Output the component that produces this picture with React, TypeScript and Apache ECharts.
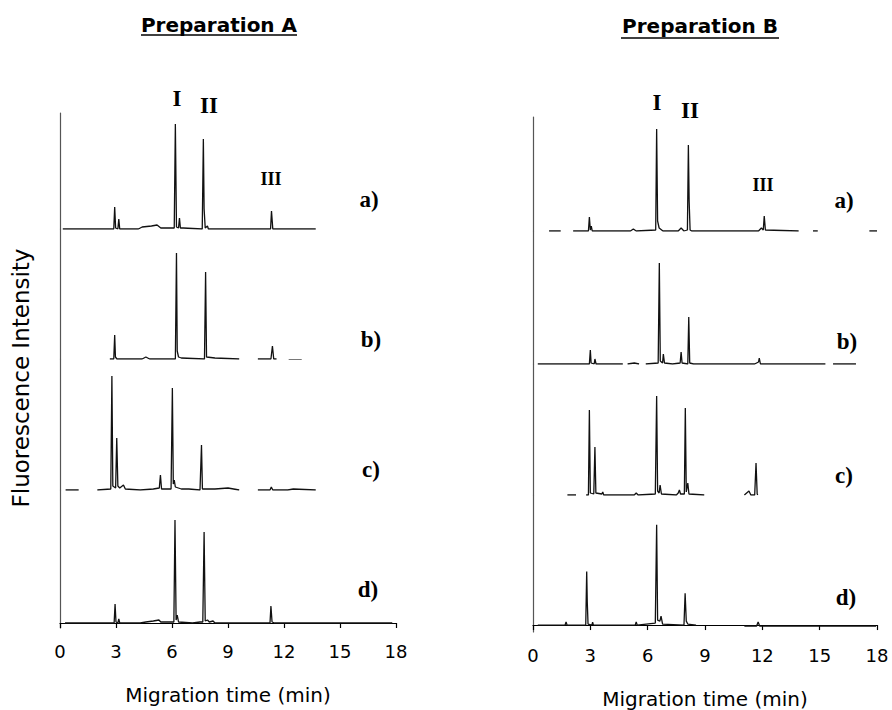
import { useEffect, useRef } from 'react';
import * as echarts from 'echarts';

// gap marker (break in the recorded trace)
const G = '-';

const panelTitles = ['Preparation A', 'Preparation B'];
const traceLabels = ['a)', 'b)', 'c)', 'd)'];
const peakLabels = ['I', 'II', 'III'];
const xAxisTitle = 'Migration time (min)';
const yAxisTitle = 'Fluorescence Intensity';
const xMin = 0;
const xMax = 18;
const xInterval = 3;

// Preparation A traces: [migration time (min), intensity (a.u.)]
const prepA_a = [
  [0.15, 0], [2.88, 0], [2.93, 22], [2.98, 1], [3.1, 0], [3.15, 10], [3.2, 0], [4.2, 0], [4.4, 2], [4.9, 3],
  [5.2, 4], [5.4, 1], [6.12, 1], [6.18, 105], [6.24, 2], [6.35, 1], [6.4, 11], [6.45, 1], [6.6, 1], [7.62, 0],
  [7.68, 90], [7.72, 20], [7.78, 1], [7.9, 3], [7.95, 0], [11.28, 0], [11.33, 18], [11.4, 0], [13.7, 0],
];
const prepA_b = [
  [2.67, 0], [2.88, 0], [2.93, 24], [2.97, 2], [3.05, 0], [4.4, 0], [4.6, 2], [4.8, 0], [6.18, 0], [6.24, 106],
  [6.28, 8], [6.35, 2], [6.5, 1], [7.74, 0], [7.8, 87], [7.85, 2], [8.3, 1], [9.6, 0], [9.7, G], [10.6, 0],
  [11.3, 0], [11.38, 13], [11.45, 0], [11.6, 0], [11.9, G], [12.25, -1], [12.95, -1], [13.3, G], [13.8, -3], [18.3, -3],
];
const prepA_c = [
  [0.3, 0], [1.0, 0], [1.5, G], [2.0, 0], [2.72, 1], [2.78, 114], [2.83, 4], [2.98, 2], [3.04, 52], [3.1, 4],
  [3.2, 2], [3.4, 5], [3.5, 1], [4.3, 0], [5.0, 1], [5.32, 2], [5.38, 15], [5.44, 1], [5.95, 1], [6.02, 102],
  [6.07, 6], [6.12, 10], [6.18, 3], [6.5, 1], [6.9, 1], [7.5, 0], [7.58, 45], [7.63, 1], [8.3, 1], [9.0, 2],
  [9.6, 0], [10.0, G], [10.6, 0], [11.25, 0], [11.32, 3], [11.4, 0], [12.2, 0], [12.5, 1], [13.7, 0],
];
const prepA_d = [
  [0.27, 0], [2.9, 0], [2.95, 19], [3.0, 1], [3.1, 0], [3.15, 4], [3.2, 0], [4.3, 0], [4.6, 1], [5.0, 2],
  [5.3, 3], [5.4, 1], [6.1, 1], [6.16, 103], [6.22, 3], [6.28, 8], [6.35, 1], [7.1, 0], [7.5, 1], [7.65, 1],
  [7.72, 91], [7.78, 2], [7.9, 3], [8.0, 1], [8.2, 2], [8.3, 0], [11.25, 0], [11.3, 17], [11.36, 1], [11.5, 0],
  [17.8, 0],
];

// Preparation B traces
const prepB_a = [
  [0.84, 0], [1.45, 0], [1.8, G], [2.1, 0], [2.9, 0], [2.95, 14], [3.0, 1], [3.05, 5], [3.1, 0], [5.1, 0],
  [5.25, 2], [5.4, 0], [6.42, 1], [6.47, 102], [6.52, 10], [6.6, 3], [6.8, 0], [7.6, 0], [7.75, 3], [7.9, 0],
  [8.08, 1], [8.13, 86], [8.17, 30], [8.22, 1], [8.3, 0], [11.8, 0], [11.95, 3], [12.05, 1], [12.1, 15], [12.16, 1],
  [13.9, 0], [14.3, G], [14.65, 0], [14.9, 0], [15.5, G], [17.6, 0], [18, 0],
];
const prepB_b = [
  [0.25, 0], [2.95, 0], [3.0, 14], [3.04, 1], [3.2, 0], [3.24, 5], [3.3, 0], [4.7, 0], [4.8, G], [4.95, 0],
  [5.3, 1], [5.55, 0], [5.7, G], [5.9, 0], [6.55, 1], [6.61, 101], [6.66, 3], [6.78, 1], [6.82, 10], [6.88, 1],
  [7.3, 0], [7.7, 1], [7.75, 12], [7.8, 1], [8.1, 0], [8.15, 47], [8.2, 1], [8.4, 0], [11.6, 0], [11.8, 2],
  [11.84, 6], [11.9, 0], [15.3, 0], [15.5, G], [15.7, 0], [16.9, 0],
];
const prepB_c = [
  [1.8, 0], [2.25, 0], [2.5, G], [2.78, 0], [2.9, 0], [2.95, 85], [3.0, 2], [3.18, 1], [3.24, 48], [3.29, 2],
  [3.6, 1], [3.65, 3], [3.7, 0], [5.3, 0], [5.4, 2], [5.5, 0], [6.4, 1], [6.47, 99], [6.52, 4], [6.6, 2],
  [6.65, 10], [6.72, 1], [7.5, 0], [7.6, 2], [7.66, 5], [7.72, 1], [7.92, 1], [7.97, 87], [8.02, 3], [8.1, 12],
  [8.16, 1], [8.96, 0], [10.0, G], [11.06, 0], [11.3, 4], [11.4, 0], [11.6, 0], [11.67, 32], [11.73, 1], [11.76, 0],
  [12.5, G], [13.24, -2], [18.3, -2],
];
const prepB_d = [
  [0.25, 0], [1.68, 0], [1.73, 3], [1.78, 0], [2.76, 0], [2.81, 54], [2.84, 23], [2.88, 1], [3.08, 0], [3.12, 3],
  [3.16, 0], [5.35, 0], [5.4, 3], [5.45, 0], [6.4, 2], [6.47, 101], [6.52, 5], [6.64, 4], [6.7, 9], [6.78, 1],
  [7.9, 0], [7.96, 32], [8.02, 4], [8.1, 1], [8.53, 0], [9.5, G], [11.06, -1], [11.7, -1], [11.78, 3], [11.86, -1],
  [17.95, -1],
];

const traces = [
  [prepA_a, prepA_b, prepA_c, prepA_d],
  [prepB_a, prepB_b, prepB_c, prepB_d],
];

// ---- layout (pixels) ----
const panelLayout = [
  { left: 60, width: 336, edges: [113, 229, 359, 490, 628], bottomOffset: 5 },
  { left: 533, width: 344, edges: [117, 231, 364, 495, 633], bottomOffset: 7 },
];
const titlePos = [
  { x: 219, y: 25, u1: 141, u2: 297, uy: 35 },
  { x: 700, y: 26, u1: 621, u2: 779, uy: 38 },
];
const peakLabelPos = [
  [[177, 98, 23], [209, 105, 23], [271, 179, 18]],
  [[657, 102, 23], [690, 110, 23], [763, 185, 18]],
];
const traceLabelPos = [
  [[369, 199], [371, 339], [371, 469], [368, 589]],
  [[844, 200], [847, 341], [844, 475], [846, 597]],
];

const SANS = '"DejaVu Sans", "Liberation Sans", Arial, sans-serif';
const SERIF = '"Liberation Serif", "Times New Roman", serif';

export default function App() {
  const ref = useRef<HTMLDivElement>(null);
  useEffect(() => {
    if (!ref.current) return;
    const chart = echarts.init(ref.current, null, { renderer: 'svg' });
    const grid: any[] = [];
    const xAxis: any[] = [];
    const yAxis: any[] = [];
    const series: any[] = [];
    panelLayout.forEach((p, pi) => {
      for (let ti = 0; ti < 4; ti++) {
        const top = p.edges[ti];
        const bottom = p.edges[ti + 1];
        const h = bottom - top;
        const isLast = ti === 3;
        const idx = grid.length;
        grid.push({ left: p.left, top, width: p.width, height: h });
        xAxis.push({
          gridIndex: idx,
          type: 'value',
          min: xMin,
          max: xMax,
          interval: xInterval,
          show: isLast,
          axisLine: { show: true, lineStyle: { color: '#000', width: 1.2 } },
          axisTick: { show: true, inside: false, length: 5, lineStyle: { color: '#000', width: 1.2 } },
          axisLabel: { show: true, color: '#000', fontSize: 18, fontFamily: SANS, margin: 14 },
          splitLine: { show: false },
          name: isLast ? xAxisTitle : '',
          nameLocation: 'middle',
          nameGap: 57,
          nameTextStyle: { color: '#000', fontSize: 20, fontFamily: SANS },
        });
        const yMin = isLast ? -p.bottomOffset : 0;
        yAxis.push({
          gridIndex: idx,
          type: 'value',
          min: yMin,
          max: yMin + h,
          axisLine: { show: true, lineStyle: { color: '#555', width: 1.2 } },
          axisTick: { show: false },
          axisLabel: { show: false },
          splitLine: { show: false },
        });
        series.push({
          type: 'line',
          name: `${panelTitles[pi]} ${traceLabels[ti]}`,
          xAxisIndex: idx,
          yAxisIndex: idx,
          data: traces[pi][ti],
          showSymbol: false,
          symbol: 'none',
          connectNulls: false,
          silent: true,
          lineStyle: { color: '#111', width: 1.3 },
        });
      }
    });

    const graphic: any[] = [];
    panelTitles.forEach((t, pi) => {
      const tp = titlePos[pi];
      graphic.push({
        type: 'text',
        x: tp.x,
        y: tp.y,
        style: {
          text: t,
          fill: '#000',
          fontSize: 20,
          fontWeight: 'bold',
          fontFamily: SANS,
          textAlign: 'center',
          textVerticalAlign: 'middle',
        },
      });
      graphic.push({
        type: 'line',
        shape: { x1: tp.u1, y1: tp.uy, x2: tp.u2, y2: tp.uy },
        style: { stroke: '#000', lineWidth: 1.5 },
      });
      peakLabels.forEach((pl, li) => {
        const [x, y, fs] = peakLabelPos[pi][li];
        graphic.push({
          type: 'text',
          x,
          y,
          style: {
            text: pl,
            fill: '#000',
            fontSize: fs,
            fontWeight: 'bold',
            fontFamily: SERIF,
            textAlign: 'center',
            textVerticalAlign: 'middle',
          },
        });
      });
      traceLabels.forEach((tl, li) => {
        const [x, y] = traceLabelPos[pi][li];
        graphic.push({
          type: 'text',
          x,
          y,
          style: {
            text: tl,
            fill: '#000',
            fontSize: 23,
            fontWeight: 'bold',
            fontFamily: SERIF,
            textAlign: 'center',
            textVerticalAlign: 'middle',
          },
        });
      });
    });
    graphic.push({
      type: 'text',
      x: 21,
      y: 378,
      rotation: Math.PI / 2,
      style: {
        text: yAxisTitle,
        fill: '#000',
        fontSize: 23,
        fontFamily: SANS,
        textAlign: 'center',
        textVerticalAlign: 'middle',
      },
    });

    chart.setOption({
      animation: false,
      backgroundColor: '#fff',
      grid,
      xAxis,
      yAxis,
      series,
      graphic,
    });
    return () => chart.dispose();
  }, []);
  return (
    <div
      ref={ref}
      style={{ position: 'absolute', left: 0, top: 0, width: 892, height: 710 }}
    />
  );
}
